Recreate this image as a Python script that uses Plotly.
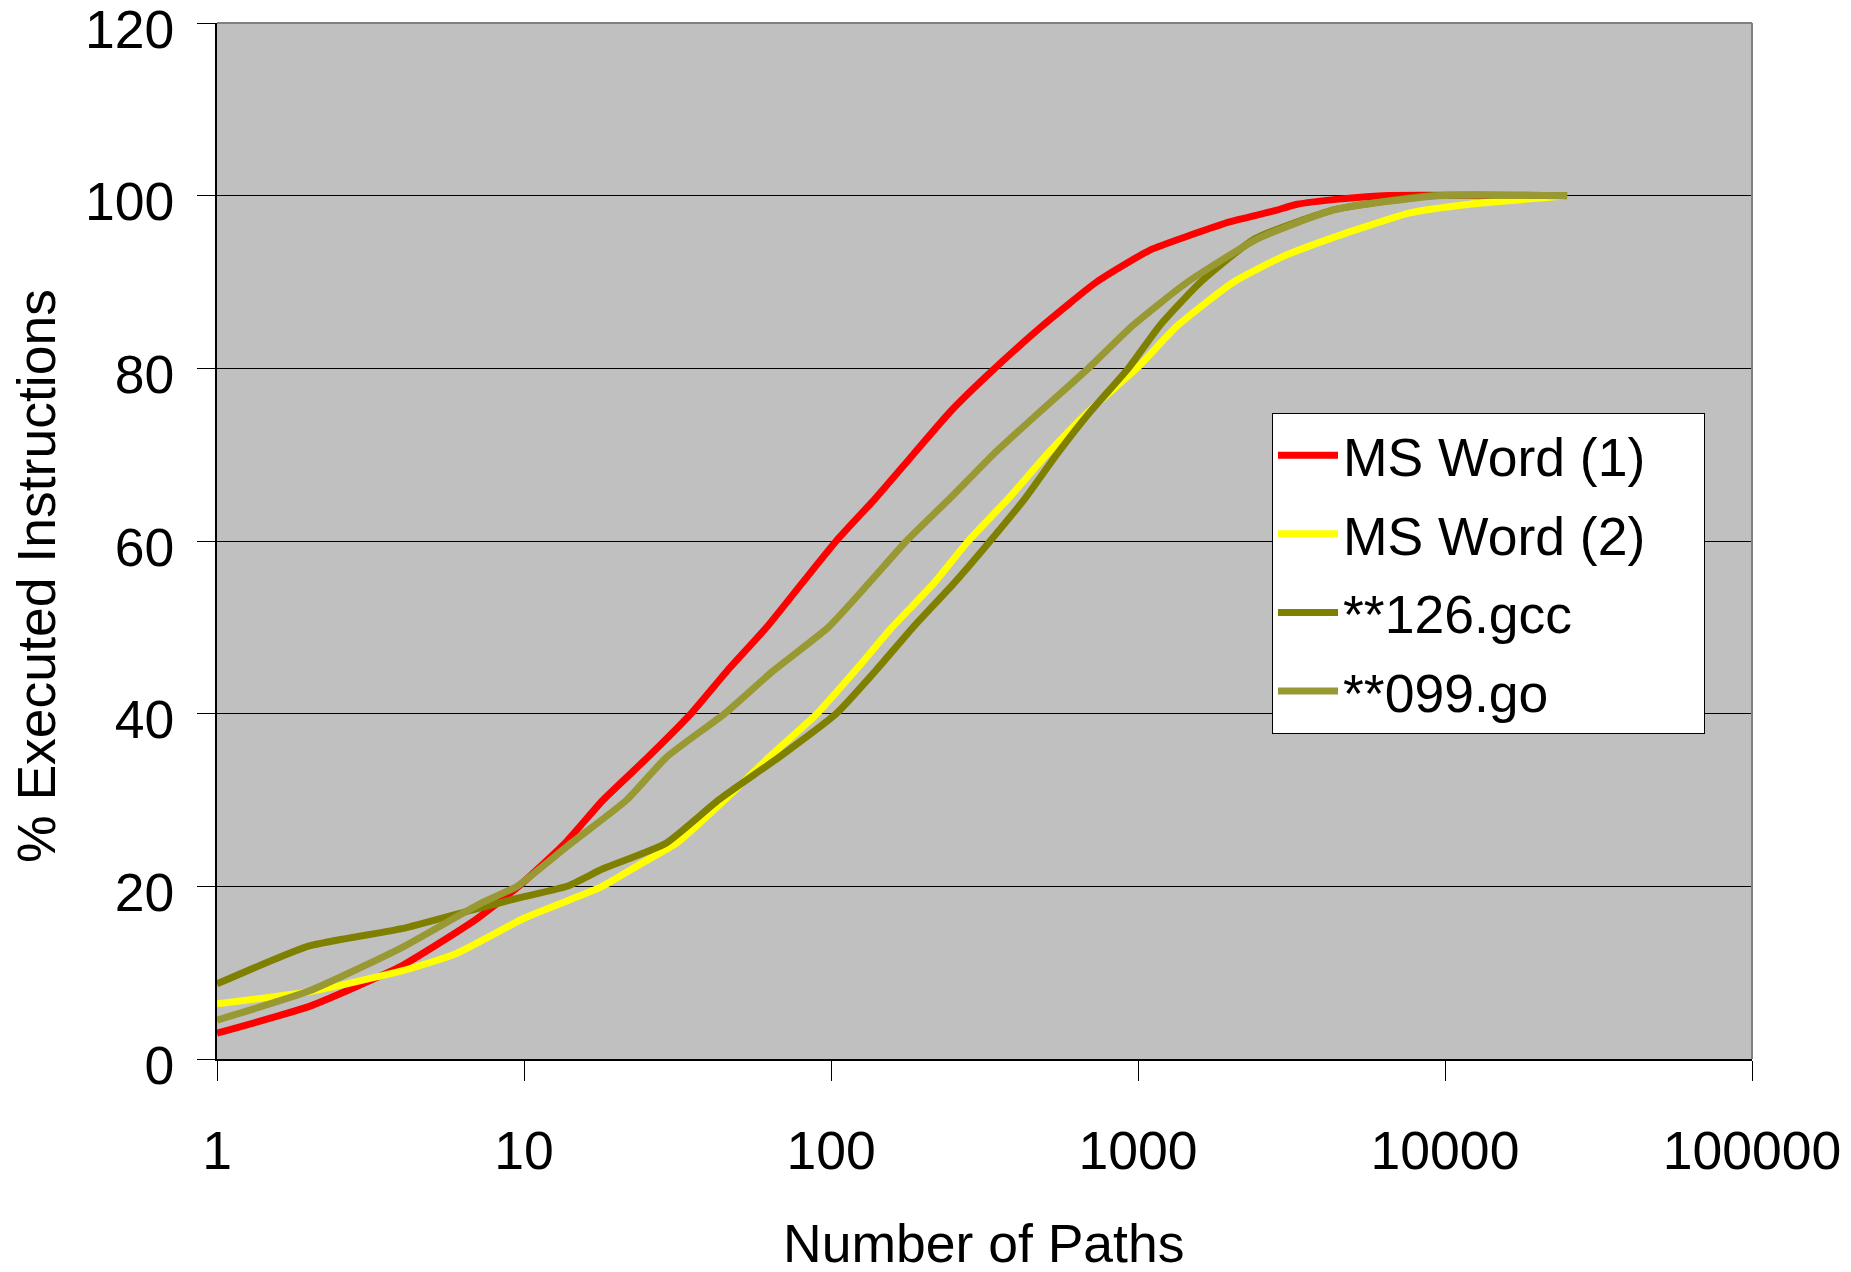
import plotly.graph_objects as go

# ---- data ----
word1_n = [1, 2, 4, 7, 9.6, 13.6, 18.1, 25.4, 35, 46, 61.7, 80, 104, 140, 185, 245, 330, 491, 733, 1094, 1500, 2000, 2750, 3300, 4500, 6300, 16000]
word1_p = [3.0, 6.1, 10.8, 16.2, 20, 25, 30, 35, 40, 45, 50, 55, 60, 65, 70, 75, 79.5, 85, 90, 93.7, 95.5, 97.0, 98.2, 99.0, 99.6, 100, 100]

word2_n = [1, 2, 4, 6, 10, 14, 18, 24, 31.4, 45, 63, 90, 120, 158, 215, 280, 380, 504, 690, 990, 1350, 2050, 2900, 4200, 7700, 12000, 25000]
word2_p = [6.4, 7.8, 10.2, 12.2, 16.3, 18.4, 20, 22.6, 25, 30, 35, 40, 45, 50, 55, 60, 65, 70, 75, 80, 85, 90, 92.8, 95, 98, 99, 100]

gcc_n = [1, 2, 4, 7, 10, 13.8, 18, 29, 43, 68, 104, 140, 185, 250, 330, 430, 543, 700, 930, 1180, 1600, 2400, 4400, 9000, 25000]
gcc_p = [8.7, 13.1, 15.1, 17.4, 18.8, 20, 22.0, 25, 30, 35, 40, 45, 50, 55, 60, 65, 70, 75, 80, 85, 90, 95, 98.4, 100, 100]

go_n = [1, 2, 4, 7.2, 9.5, 13.9, 21.6, 29.2, 45, 65, 98, 132, 176, 245, 337, 480, 689, 964, 1450, 2450, 4400, 9500, 25000]
go_p = [4.5, 7.9, 12.9, 18.0, 20, 24.7, 30, 35, 40, 45, 50, 55, 60, 65, 70, 75, 80, 85, 90, 95, 98.4, 100, 100]

series_names = ["MS Word (1)", "MS Word (2)", "**126.gcc", "**099.go"]
series_colors = ["#FF0000", "#FFFF00", "#808000", "#999933"]

x_tickvals = [1, 10, 100, 1000, 10000, 100000]
x_ticktext = ["1", "10", "100", "1000", "10000", "100000"]
y_tickvals = [0, 20, 40, 60, 80, 100, 120]

FONT = "Liberation Sans, Arial, sans-serif"
FS = 53.5

# page body has an 8px margin: figure is placed at (8, 8)
OFF = 8
W, H = 1851 - OFF, 1272 - OFF
PL, PR, PT, PB = 217 - OFF, 1752 - OFF, 23 - OFF, 1059 - OFF  # plot area in figure px

# legend labels; the widest one gets two en-spaces of right padding like the reference box
legend_labels = [series_names[0] + "\u2002\u2002"] + series_names[1:]

fig = go.Figure()
for name, label, color, xs, ys in zip(series_names, legend_labels, series_colors,
                                      [word1_n, word2_n, gcc_n, go_n],
                                      [word1_p, word2_p, gcc_p, go_p]):
    fig.add_trace(go.Scatter(x=xs, y=ys, mode="lines", name=label,
                             legendgroup=name,
                             line=dict(color=color, width=7, shape="spline", smoothing=0.5)))

fig.update_layout(
    width=W, height=H,
    margin=dict(l=PL, r=W - PR, t=PT, b=H - PB, pad=0),
    paper_bgcolor="white",
    plot_bgcolor="#C0C0C0",
    font=dict(family=FONT, size=FS, color="black"),
    showlegend=True,
    legend=dict(
        x=(1272 - 217) / 1535, y=(1059 - 413) / 1036,
        xanchor="left", yanchor="top",
        bgcolor="white", bordercolor="black", borderwidth=1,
        font=dict(family=FONT, size=FS, color="black"),
        tracegroupgap=6, itemwidth=60,
    ),
)

fig.update_xaxes(
    type="log", range=[0, 5], automargin=False,
    tickvals=x_tickvals, ticktext=x_ticktext,
    ticks="outside", ticklen=20, tickwidth=1, tickcolor="black",
    showline=True, linecolor="black", linewidth=2,
    showgrid=False, zeroline=False,
    tickfont=dict(family=FONT, size=FS, color="black"),
    ticklabelstandoff=24, ticklabeloverflow="allow",
)
fig.update_yaxes(
    range=[0, 120], tickvals=y_tickvals, automargin=False,
    ticks="outside", ticklen=18, tickwidth=1, tickcolor="black",
    showline=True, linecolor="black", linewidth=2,
    showgrid=True, gridcolor="black", gridwidth=1, zeroline=False,
    tickfont=dict(family=FONT, size=FS, color="black"),
    ticklabelstandoff=12, ticklabeloverflow="allow", ticklabelshift=6,
)

# gray top/right plot border
fig.add_shape(type="line", xref="paper", yref="paper", x0=0, x1=1, y0=1, y1=1,
              line=dict(color="#808080", width=2), layer="above")
fig.add_shape(type="line", xref="paper", yref="paper", x0=1, x1=1, y0=0, y1=1,
              line=dict(color="#808080", width=2), layer="above")

# axis titles
fig.add_annotation(text="Number of Paths", xref="paper", yref="paper",
                   x=(983 - 217) / 1535, y=(1059 - 1243) / 1036,
                   xanchor="center", yanchor="middle", showarrow=False,
                   font=dict(family=FONT, size=FS, color="black"))
fig.add_annotation(text="% Executed Instructions", xref="paper", yref="paper",
                   x=(36 - 217) / 1535, y=(1059 - 576) / 1036,
                   xanchor="center", yanchor="middle", textangle=-90, showarrow=False,
                   font=dict(family=FONT, size=FS, color="black"))

fig.write_html("out.html")
